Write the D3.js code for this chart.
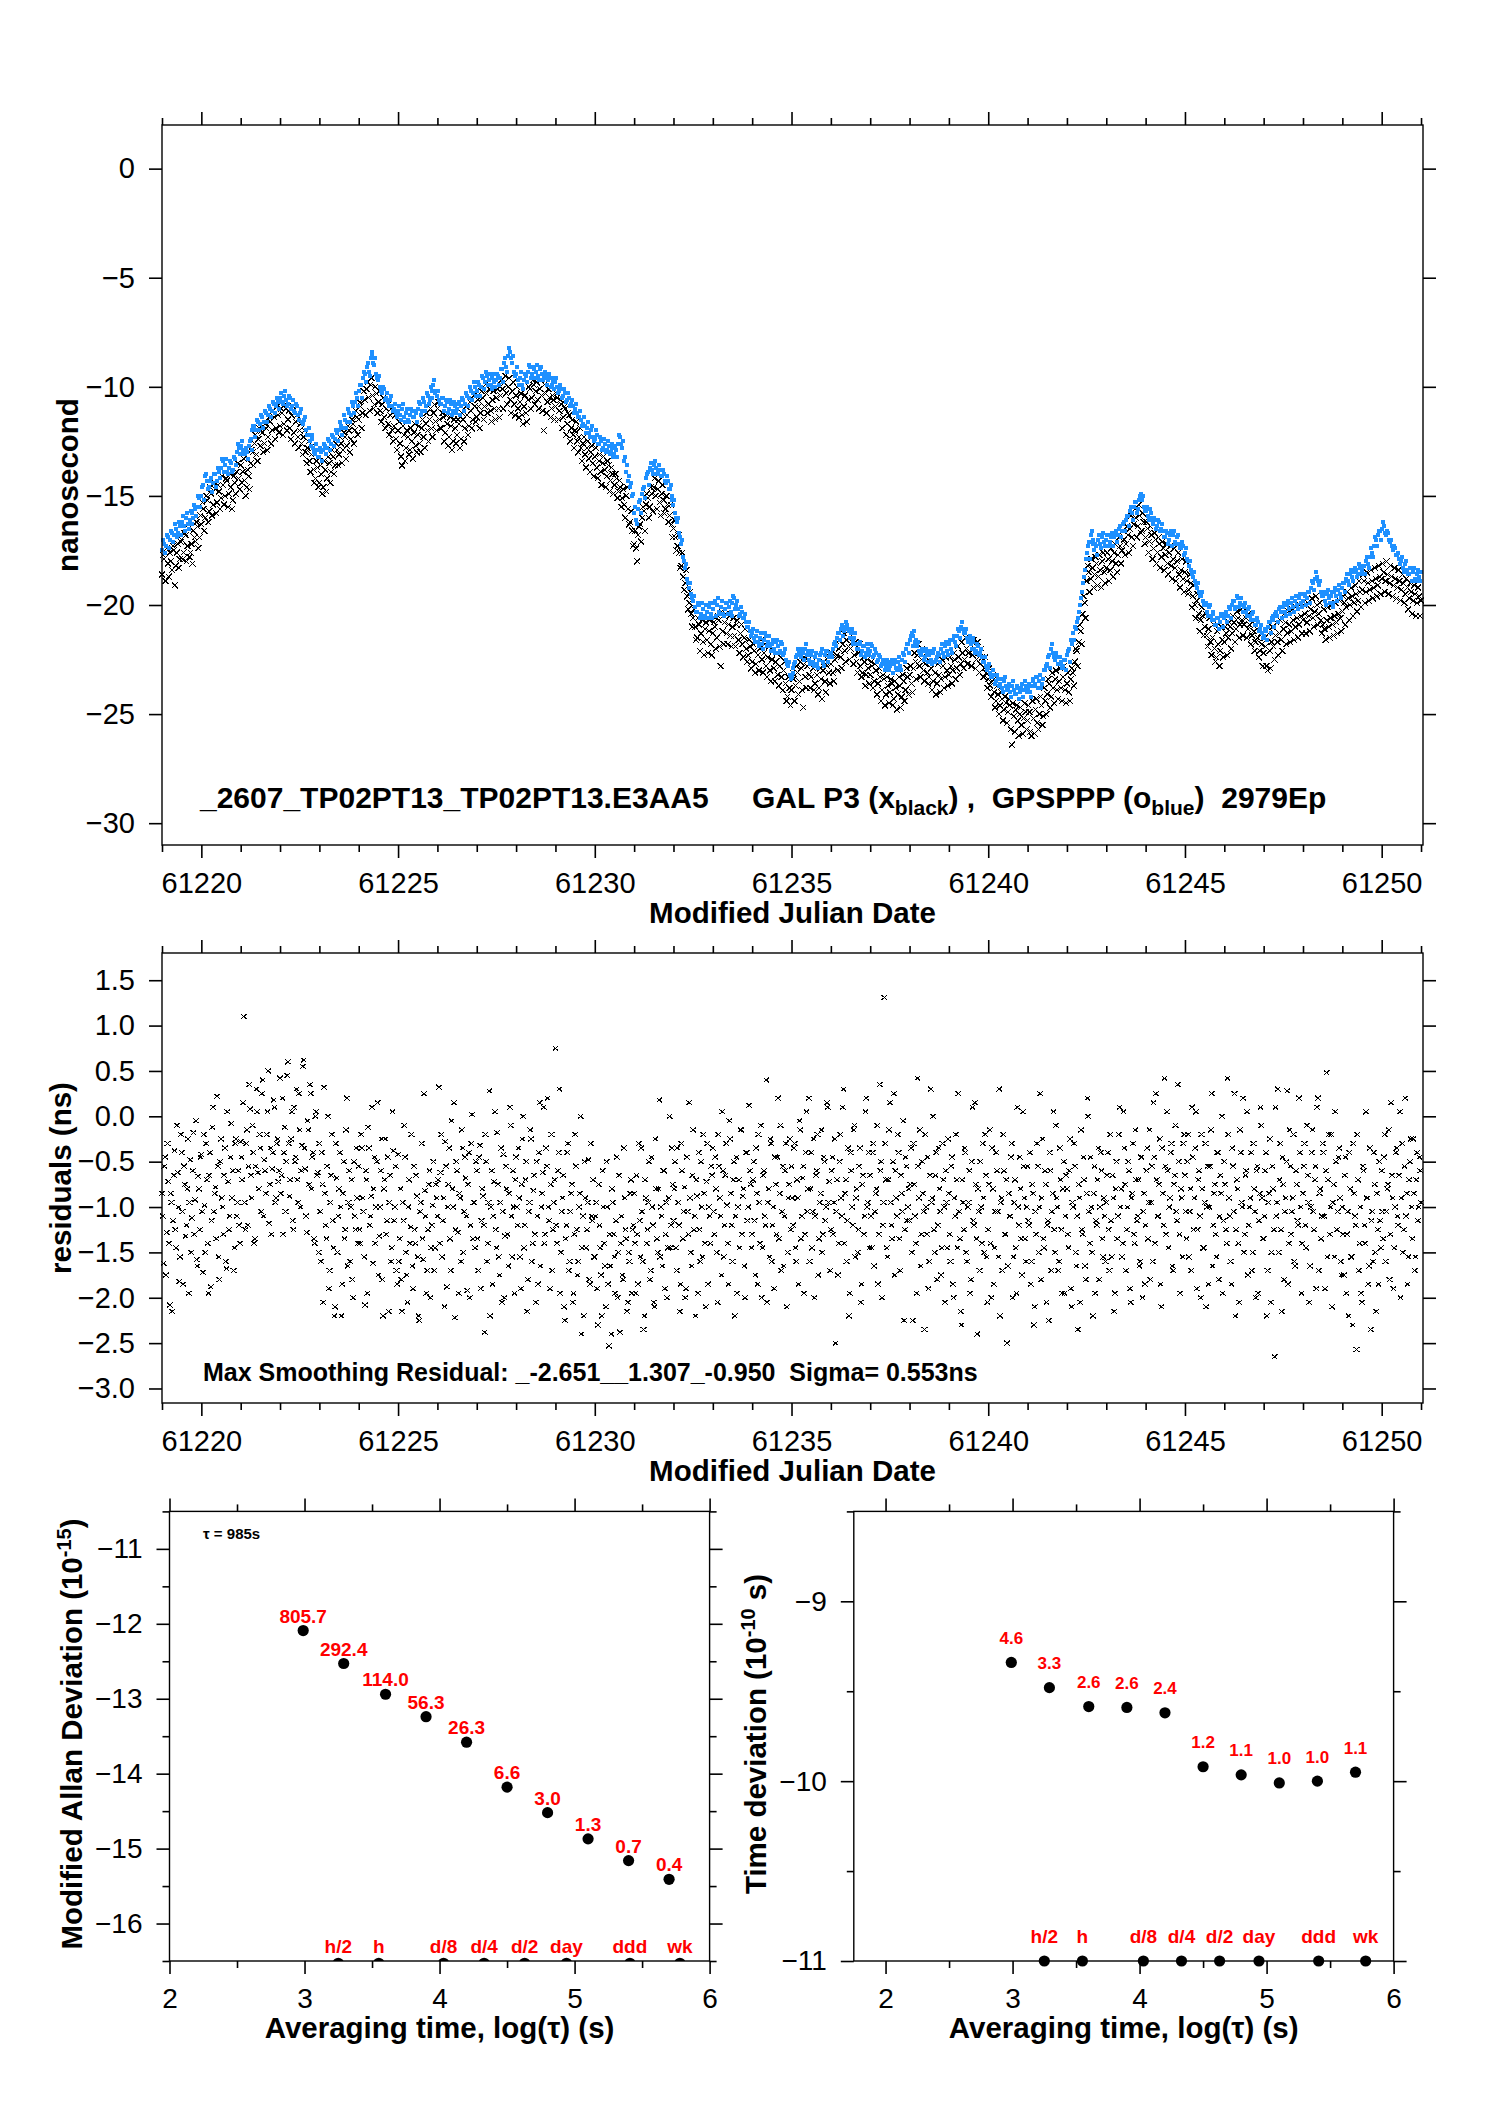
<!DOCTYPE html>
<html>
<head>
<meta charset="utf-8">
<script src="https://cdn.jsdelivr.net/npm/d3@7"></script>
<style>
  body { margin: 0; background: #fff; }
  svg text { font-family: "Liberation Sans", Arial, Helvetica, sans-serif; }
</style>
</head>
<body>
<div id="chart"></div>
<script>
// ============================================================================
// GNSS clock comparison: time series, smoothing residuals, MDEV and TDEV
// ============================================================================

// ---- time grids (MJD) for the two time-series panels
const MJD_START = 61219.0;
const MJD_END = 61251.0;
const TOP_MID_START = 61219.025;     // second batch of epochs, between the first
const TOP_MID_END = 61250.975;
const RES_MID_START = 61219.02;
const RES_MID_END = 61250.98;
const MJD_MAJOR = [61220, 61225, 61230, 61235, 61240, 61245, 61250];
const MJD_MINOR = [61219, 61221, 61222, 61223, 61224, 61226, 61227, 61228, 61229,
    61231, 61232, 61233, 61234, 61236, 61237, 61238, 61239, 61241, 61242, 61243,
    61244, 61246, 61247, 61248, 61249, 61251];

// ---- top panel: GAL P3 (black crosses), every 0.05 day, ns
const galP3 = [
    -18.6, -17.9, -18.9, -18.1, -17.6, -18.4, -17.5, -18.2, -17.2, -17.9,
    -17.0, -17.6, -16.8, -17.3, -17.8, -17.2, -16.6, -17.1, -16.4, -16.9,
    -16.3, -15.6, -16.0, -15.2, -15.7, -14.9, -15.4, -14.7, -15.3, -14.8,
    -15.1, -14.5, -15.0, -14.3, -14.9, -14.6, -15.2, -14.4, -13.9, -14.2,
    -13.6, -13.9, -14.3, -14.6, -14.1, -13.5, -13.0, -12.6, -13.1, -12.4,
    -12.7, -12.1, -12.6, -11.9, -12.3, -11.6, -12.0, -11.4, -11.9, -11.3,
    -11.8, -11.2, -11.7, -11.0, -11.5, -11.9, -11.3, -12.1, -11.6, -12.3,
    -12.0, -12.6, -12.3, -13.0, -12.8, -13.4, -13.1, -13.8, -14.2, -13.7,
    -14.4, -14.0, -14.6, -13.8, -14.2, -13.5, -13.9, -13.2, -13.6, -12.9,
    -13.1, -12.6, -12.9, -12.3, -12.7, -12.0, -12.4, -11.7, -12.0, -11.4,
    -11.5, -10.9, -11.2, -10.6, -10.1, -10.5, -9.9, -10.4, -10.8, -10.3,
    -10.7, -11.1, -10.8, -11.4, -11.0, -11.7, -11.3, -12.0, -11.8, -12.4,
    -12.0, -12.6, -13.6, -12.2, -12.8, -12.3, -12.9, -12.5, -12.1, -12.7,
    -12.2, -12.6, -11.9, -12.3, -11.7, -12.0, -11.5, -11.9, -11.2, -11.6,
    -11.0, -11.5, -11.9, -11.4, -12.1, -11.7, -12.3, -11.8, -12.5, -11.9,
    -12.2, -11.7, -12.4, -11.5, -11.9, -11.3, -11.8, -11.1, -11.5, -10.9,
    -11.4, -10.9, -11.2, -10.5, -10.9, -10.3, -10.8, -11.1, -10.6, -11.0,
    -10.5, -11.0, -10.4, -10.1, -9.8, -10.3, -10.0, -10.6, -10.2, -10.8,
    -10.4, -11.0, -10.7, -11.3, -10.9, -11.2, -10.6, -10.1, -10.5, -9.9,
    -10.2, -10.6, -10.1, -10.4, -12.0, -10.3, -10.7, -10.5, -11.0, -10.6,
    -10.9, -10.5, -11.1, -10.8, -11.4, -11.0, -11.7, -11.3, -11.9, -12.2,
    -12.0, -12.5, -12.3, -12.8, -12.6, -13.1, -12.8, -13.3, -13.0, -13.5,
    -13.2, -13.7, -13.4, -13.9, -13.5, -13.8, -14.1, -13.6, -14.3, -14.0,
    -14.5, -14.2, -14.8, -14.6, -15.1, -15.4, -15.0, -15.6, -16.2, -16.6,
    -17.2, -17.4, -16.8, -16.3, -16.0, -15.7, -15.4, -15.1, -15.5, -14.9,
    -14.6, -15.0, -14.7, -15.3, -14.9, -15.2, -15.6, -15.4, -15.9, -16.3,
    -16.5, -16.9, -17.3, -17.6, -18.2, -18.7, -19.0, -19.6, -19.9, -20.4,
    -20.6, -21.0, -21.5, -20.9, -21.3, -21.7, -21.1, -21.6, -21.2, -21.8,
    -21.3, -21.0, -21.5, -20.7, -22.8, -21.2, -20.8, -21.3, -20.9, -21.4,
    -21.0, -21.4, -20.9, -21.6, -21.3, -21.8, -21.5, -22.0, -22.3, -21.9,
    -22.6, -22.1, -22.7, -22.3, -22.0, -22.5, -22.2, -22.8, -22.4, -23.0,
    -22.5, -22.9, -22.6, -23.2, -22.8, -23.3, -23.0, -23.6, -24.2, -23.8,
    -23.9, -23.4, -23.7, -23.1, -23.5, -22.9, -24.7, -23.3, -22.8, -23.2,
    -23.3, -22.9, -23.6, -23.2, -23.8, -23.4, -23.0, -23.5, -22.8, -23.1,
    -22.7, -23.1, -22.5, -22.3, -22.0, -22.4, -21.8, -22.1, -21.6, -21.9,
    -22.0, -21.7, -22.3, -22.6, -22.2, -22.8, -23.1, -22.6, -23.2, -22.9,
    -23.2, -22.8, -23.5, -23.0, -23.6, -23.3, -23.9, -23.4, -24.1, -23.7,
    -24.0, -23.6, -24.3, -23.8, -24.1, -23.7, -24.2, -23.5, -23.9, -23.3,
    -23.2, -23.6, -22.9, -22.6, -22.3, -22.8, -22.5, -23.0, -22.7, -23.1,
    -23.3, -22.9, -23.5, -23.1, -23.6, -23.2, -23.4, -22.8, -23.3, -23.0,
    -23.2, -22.8, -23.0, -22.5, -22.9, -22.4, -22.7, -22.2, -22.5, -22.0,
    -22.2, -21.8, -22.3, -22.0, -22.5, -22.2, -22.7, -22.4, -22.9, -23.1,
    -23.4, -23.7, -23.5, -24.0, -24.4, -24.1, -24.6, -24.3, -24.8, -24.5,
    -24.9, -24.6, -26.4, -25.1, -24.8, -25.3, -25.0, -25.5, -25.2, -24.9,
    -25.3, -24.9, -26.0, -25.2, -24.8, -25.4, -25.0, -24.6, -25.1, -24.4,
    -24.1, -23.6, -24.2, -23.8, -23.4, -23.9, -23.5, -23.8, -23.3, -23.9,
    -23.6, -24.0, -23.4, -23.1, -22.6, -22.1, -21.7, -21.2, -20.4, -19.9,
    -18.9, -18.5, -18.8, -18.3, -18.6, -18.1, -18.7, -18.4, -18.0, -18.5,
    -18.3, -17.9, -18.4, -18.0, -17.6, -18.1, -17.7, -17.3, -17.5, -17.0,
    -17.2, -16.8, -16.5, -16.9, -16.3, -16.0, -16.4, -15.9, -16.6, -16.2,
    -16.9, -16.5, -17.1, -16.8, -17.4, -17.0, -17.6, -17.2, -17.8, -17.4,
    -17.7, -18.1, -17.6, -18.2, -17.9, -18.3, -18.0, -18.6, -18.4, -18.8,
    -18.5, -18.9, -19.3, -19.0, -19.6, -20.0, -19.8, -20.4, -20.7, -20.5,
    -21.0, -21.4, -21.1, -21.7, -21.5, -22.0, -22.4, -21.8, -22.1, -21.6,
    -21.7, -21.3, -21.5, -21.0, -21.3, -20.8, -21.1, -20.6, -20.9, -20.7,
    -20.9, -20.6, -21.1, -20.9, -21.4, -21.2, -21.7, -21.5, -22.1, -21.8,
    -22.2, -21.9, -23.0, -22.1, -21.7, -21.9, -21.4, -21.7, -21.3, -21.6,
    -21.1, -20.8, -21.3, -20.9, -21.2, -20.7, -21.0, -20.6, -20.9, -20.5,
    -20.7, -20.4, -20.8, -20.5, -20.2, -20.6, -20.3, -20.0, -20.4, -20.7,
    -20.9, -21.1, -20.7, -21.0, -20.6, -20.9, -20.5, -20.8, -20.4, -20.6,
    -20.3, -19.9, -20.1, -19.7, -20.0, -19.6, -19.9, -19.5, -19.8, -19.4,
    -19.3, -18.9, -19.4, -19.0, -19.3, -18.9, -19.2, -18.8, -19.1, -18.7,
    -18.8, -18.5, -18.9, -18.6, -19.0, -18.7, -19.1, -18.8, -19.2, -18.9,
    -19.3, -19.0, -19.5, -19.2, -19.7, -19.4, -19.8, -19.5, -19.9, -19.6,
    -19.8
];

// ---- top panel: GAL P3, epochs halfway between the ones above, ns
const galP3Mid = [
    -17.7, -18.9, -17.4, -18.7, -18.0, -17.3, -19.1, -17.6, -18.3, -17.1,
    -17.9, -16.7, -18.0, -16.5, -17.6, -18.1, -16.9, -16.2, -17.4, -15.9,
    -15.3, -16.6, -15.0, -16.2, -14.6, -15.9, -14.4, -15.8, -14.5, -15.6,
    -14.1, -15.4, -14.2, -15.5, -14.0, -15.6, -14.1, -14.9, -13.5, -14.7,
    -14.4, -13.3, -15.0, -13.8, -14.7, -12.9, -13.6, -12.2, -13.4, -11.9,
    -12.0, -13.0, -11.7, -12.9, -11.4, -12.6, -11.1, -12.4, -10.9, -12.1,
    -11.0, -12.2, -10.8, -12.0, -11.1, -12.4, -10.9, -12.6, -11.3, -12.8,
    -11.7, -13.1, -12.0, -13.5, -12.5, -13.9, -12.7, -14.4, -13.4, -14.6,
    -13.6, -14.9, -13.4, -14.8, -13.2, -14.4, -12.9, -14.0, -12.6, -13.6,
    -12.3, -13.5, -12.1, -13.3, -11.8, -13.0, -11.5, -12.6, -11.1, -12.2,
    -10.7, -11.9, -10.2, -11.3, -9.8, -11.1, -9.6, -11.0, -10.0, -11.2,
    -10.2, -11.6, -10.5, -11.9, -10.6, -12.2, -11.0, -12.5, -11.3, -12.9,
    -11.6, -13.2, -11.8, -13.4, -12.0, -13.1, -11.9, -13.3, -11.7, -13.0,
    -11.8, -13.0, -11.5, -12.8, -11.2, -12.5, -11.0, -12.3, -10.8, -12.0,
    -10.7, -11.9, -11.2, -12.5, -11.3, -12.7, -11.4, -12.9, -11.5, -12.6,
    -11.5, -12.8, -11.2, -12.5, -10.9, -12.2, -10.7, -11.9, -10.4, -11.6,
    -10.6, -11.9, -10.2, -11.5, -9.9, -11.2, -10.1, -11.6, -10.2, -11.5,
    -10.1, -11.4, -9.7, -11.0, -9.5, -10.8, -9.6, -11.2, -9.8, -11.3,
    -10.0, -11.4, -10.3, -11.7, -10.4, -11.6, -10.0, -11.0, -9.7, -10.8,
    -9.8, -11.0, -9.7, -11.1, -9.9, -11.2, -10.1, -11.4, -10.4, -11.5,
    -10.3, -11.5, -10.6, -11.9, -10.9, -12.2, -11.2, -12.5, -11.5, -12.8,
    -11.6, -13.0, -11.9, -13.4, -12.3, -13.7, -12.5, -13.9, -12.7, -14.1,
    -12.8, -14.2, -13.1, -14.5, -13.2, -14.6, -13.4, -14.8, -13.7, -14.9,
    -14.0, -15.1, -14.3, -15.5, -14.7, -16.0, -14.6, -16.3, -15.7, -17.3,
    -16.6, -18.0, -16.4, -17.1, -15.5, -16.6, -14.9, -16.0, -14.6, -15.7,
    -14.2, -15.6, -14.3, -15.9, -14.5, -15.8, -15.0, -16.2, -15.4, -16.9,
    -16.1, -17.5, -16.8, -18.3, -17.6, -19.3, -18.4, -20.2, -19.4, -21.0,
    -20.2, -21.6, -20.6, -22.1, -20.7, -22.3, -20.8, -22.2, -20.7, -22.3,
    -20.8, -22.0, -20.5, -21.9, -20.3, -21.8, -20.4, -21.8, -20.5, -21.9,
    -20.6, -21.9, -20.7, -22.2, -20.9, -22.4, -21.1, -22.6, -21.6, -22.9,
    -21.8, -23.1, -21.7, -23.0, -21.6, -23.1, -21.8, -23.3, -21.9, -23.5,
    -22.1, -23.5, -22.2, -23.7, -22.4, -23.9, -22.6, -24.4, -23.3, -24.6,
    -23.1, -24.4, -22.8, -24.1, -22.6, -23.9, -22.4, -23.8, -22.5, -23.8,
    -22.6, -23.9, -22.7, -24.1, -22.9, -24.3, -22.6, -24.0, -22.3, -23.6,
    -22.2, -23.5, -21.9, -23.0, -21.6, -22.9, -21.3, -22.6, -21.2, -22.5,
    -21.4, -22.7, -21.7, -23.1, -21.8, -23.3, -22.4, -23.7, -22.5, -23.6,
    -22.6, -23.8, -22.7, -24.1, -22.9, -24.4, -23.2, -24.6, -23.3, -24.5,
    -23.4, -24.6, -23.5, -24.8, -23.3, -24.7, -23.2, -24.4, -22.9, -24.1,
    -22.8, -24.0, -22.2, -23.4, -21.8, -23.3, -22.0, -23.5, -22.2, -23.6,
    -22.6, -23.9, -22.6, -24.1, -22.7, -24.0, -22.5, -23.8, -22.4, -23.7,
    -22.4, -23.6, -22.2, -23.4, -21.9, -23.2, -21.7, -22.9, -21.5, -22.7,
    -21.5, -22.8, -21.6, -22.9, -21.7, -23.1, -22.0, -23.3, -22.4, -23.8,
    -22.9, -24.2, -23.2, -24.7, -23.7, -25.0, -24.0, -25.3, -24.2, -25.4,
    -24.3, -25.7, -24.5, -25.8, -24.6, -26.0, -24.7, -25.9, -24.5, -25.7,
    -24.6, -25.8, -24.4, -25.9, -24.3, -25.7, -24.2, -25.5, -23.8, -25.0,
    -23.4, -24.7, -23.1, -24.5, -23.0, -24.3, -22.9, -24.4, -22.8, -24.5,
    -23.1, -24.4, -22.9, -23.7, -22.0, -22.8, -20.9, -21.8, -19.6, -20.6,
    -18.2, -19.4, -17.9, -19.2, -17.8, -19.1, -17.7, -19.2, -17.6, -19.0,
    -17.6, -18.9, -17.4, -18.7, -17.2, -18.5, -16.9, -18.1, -16.6, -17.7,
    -16.4, -17.6, -15.9, -17.3, -15.6, -16.9, -15.4, -16.7, -15.8, -17.2,
    -16.2, -17.6, -16.4, -17.9, -16.7, -18.1, -16.9, -18.3, -17.1, -18.4,
    -17.2, -18.6, -17.3, -18.8, -17.4, -18.9, -17.6, -19.2, -17.9, -19.4,
    -18.0, -19.5, -18.6, -20.1, -19.1, -20.6, -19.5, -21.2, -20.1, -21.4,
    -20.4, -21.9, -20.6, -22.3, -20.9, -22.6, -21.2, -22.8, -21.0, -22.4,
    -21.0, -22.3, -20.8, -22.0, -20.5, -21.7, -20.3, -21.5, -20.2, -21.4,
    -20.2, -21.5, -20.4, -21.8, -20.8, -22.1, -21.1, -22.4, -21.3, -22.8,
    -21.5, -22.8, -21.3, -22.9, -21.0, -22.5, -20.8, -22.3, -20.7, -22.1,
    -20.4, -21.8, -20.3, -21.7, -20.2, -21.6, -20.1, -21.5, -20.0, -21.3,
    -20.0, -21.3, -19.9, -21.2, -19.7, -21.0, -19.6, -20.9, -19.9, -21.3,
    -20.2, -21.6, -20.1, -21.5, -20.0, -21.4, -19.9, -21.3, -19.8, -21.2,
    -19.6, -20.9, -19.4, -20.7, -19.2, -20.5, -19.1, -20.3, -18.9, -20.1,
    -18.6, -19.9, -18.5, -19.8, -18.4, -19.7, -18.3, -19.6, -18.2, -19.5,
    -18.1, -19.4, -18.0, -19.5, -18.2, -19.6, -18.3, -19.7, -18.4, -19.8,
    -18.6, -19.9, -18.8, -20.2, -19.0, -20.4, -19.1, -20.5, -19.2, -20.5
];

// ---- top panel: GPSPPP (blue dots), every 0.05 day, ns
const gpsPPP = [
    -17.5, -17.2, -17.3, -16.9, -17.0, -16.7, -16.8, -16.5, -16.7, -16.4,
    -16.2, -16.4, -16.0, -16.3, -16.1, -15.8, -16.0, -15.6, -15.5, -15.1,
    -15.0, -14.5, -14.1, -14.3, -14.6, -14.2, -14.4, -14.0, -14.3, -13.9,
    -13.7, -13.4, -13.6, -13.9, -13.7, -13.5, -13.8, -13.3, -13.0, -12.8,
    -12.7, -12.9, -13.1, -13.0, -12.7, -12.4, -12.0, -11.8, -12.0, -11.6,
    -11.7, -11.4, -11.6, -11.2, -11.3, -11.0, -11.1, -10.8, -10.9, -10.7,
    -10.5, -10.7, -10.4, -10.6, -10.8, -10.5, -10.9, -11.1, -10.8, -11.3,
    -11.2, -11.6, -11.5, -12.0, -12.2, -12.5, -12.4, -12.8, -13.1, -12.9,
    -13.2, -13.0, -12.9, -12.7, -12.8, -12.5, -12.6, -12.3, -12.4, -12.1,
    -12.0, -11.8, -11.9, -11.5, -11.6, -11.2, -11.3, -10.9, -10.7, -10.5,
    -10.2, -9.9, -9.6, -9.4, -9.1, -9.3, -8.7, -8.5, -9.0, -9.4,
    -9.7, -10.0, -10.3, -10.1, -10.5, -10.7, -10.6, -10.9, -11.0, -11.2,
    -11.1, -11.3, -11.0, -11.4, -11.2, -11.5, -11.3, -11.1, -11.4, -11.2,
    -11.0, -10.8, -11.1, -10.7, -10.9, -10.4, -10.6, -10.2, -9.9, -10.3,
    -10.4, -10.6, -10.8, -10.5, -10.9, -10.7, -11.0, -10.8, -11.1, -10.9,
    -11.0, -10.7, -10.9, -10.6, -10.8, -10.4, -10.5, -10.2, -10.3, -10.0,
    -10.2, -9.9, -10.0, -9.6, -9.8, -9.5, -9.7, -9.9, -9.6, -9.8,
    -9.7, -9.5, -9.6, -9.2, -8.9, -9.1, -8.6, -8.4, -8.9, -9.3,
    -9.4, -9.7, -9.6, -9.9, -9.7, -9.5, -9.3, -9.1, -9.4, -9.2,
    -9.3, -9.5, -9.2, -9.4, -9.6, -9.5, -9.7, -9.6, -9.9, -9.8,
    -9.8, -10.0, -10.2, -10.1, -10.4, -10.3, -10.6, -10.5, -10.8, -10.9,
    -11.0, -11.2, -11.4, -11.5, -11.7, -11.8, -11.9, -12.1, -12.0, -12.3,
    -12.4, -12.2, -12.6, -12.5, -12.8, -12.6, -12.9, -12.7, -13.0, -12.8,
    -13.1, -12.9, -12.6, -12.3, -12.8, -13.4, -13.9, -14.3, -14.6, -15.0,
    -15.8, -16.1, -15.6, -15.2, -14.9, -14.6, -14.2, -13.9, -13.7, -13.8,
    -13.6, -13.7, -13.9, -13.8, -14.1, -14.0, -14.4, -14.3, -14.7, -15.0,
    -15.4, -15.8, -16.2, -16.7, -17.2, -17.8, -18.3, -18.8, -19.2, -19.5,
    -19.8, -20.1, -20.3, -20.0, -20.4, -20.2, -20.5, -20.3, -20.1, -20.4,
    -20.2, -19.8, -20.0, -20.3, -20.1, -20.4, -20.2, -19.9, -20.1, -20.3,
    -19.9, -19.7, -20.0, -20.2, -20.4, -20.3, -20.6, -20.8, -21.0, -21.2,
    -21.3, -21.5, -21.4, -21.7, -21.5, -21.8, -21.6, -21.4, -21.7, -21.9,
    -21.8, -22.0, -21.7, -21.9, -22.1, -21.8, -22.2, -22.5, -22.8, -23.2,
    -23.3, -22.9, -22.6, -22.3, -22.1, -22.4, -22.2, -22.0, -22.3, -22.5,
    -22.3, -22.6, -22.4, -22.7, -22.5, -22.2, -22.6, -22.3, -22.1, -22.4,
    -22.2, -22.0, -21.7, -21.5, -21.3, -21.1, -21.4, -21.0, -20.9, -21.2,
    -21.3, -21.6, -21.5, -21.8, -22.0, -21.7, -22.1, -21.9, -22.2, -22.0,
    -22.1, -21.9, -22.3, -22.2, -22.5, -22.4, -22.7, -22.6, -22.8, -22.6,
    -22.8, -22.5, -22.7, -22.9, -22.6, -22.8, -22.5, -22.3, -22.0, -21.8,
    -21.6, -21.3, -21.4, -21.7, -21.9, -22.1, -22.3, -22.1, -22.4, -22.2,
    -22.3, -22.5, -22.2, -22.6, -22.4, -22.3, -22.0, -22.2, -21.9, -22.1,
    -21.8, -22.0, -21.6, -21.7, -21.4, -21.2, -21.0, -21.1, -21.3, -21.5,
    -21.6, -21.8, -21.7, -22.0, -22.1, -21.9, -22.2, -22.4, -22.6, -22.8,
    -22.9, -23.1, -23.3, -23.2, -23.5, -23.4, -23.6, -23.8, -23.5, -23.7,
    -23.8, -24.0, -23.7, -23.9, -24.1, -23.8, -24.0, -23.6, -23.9, -23.7,
    -23.8, -24.0, -23.7, -23.4, -23.6, -23.3, -23.5, -23.8, -23.4, -23.0,
    -22.7, -22.3, -22.0, -22.2, -22.5, -22.4, -22.7, -22.6, -22.8, -22.5,
    -22.3, -22.0, -21.6, -21.3, -21.0, -20.8, -20.3, -19.7, -19.0, -18.4,
    -17.6, -17.1, -16.8, -17.2, -17.5, -17.3, -17.0, -17.2, -16.9, -17.1,
    -17.0, -16.8, -17.1, -16.7, -16.9, -16.6, -16.8, -16.4, -16.6, -16.2,
    -16.1, -15.9, -15.7, -15.8, -15.5, -15.3, -15.6, -15.0, -15.2, -15.5,
    -15.7, -15.9, -15.6, -16.0, -16.2, -16.1, -16.4, -16.2, -16.5, -16.6,
    -16.9, -16.7, -17.0, -16.6, -16.8, -17.1, -16.9, -17.2, -17.4, -17.3,
    -17.6, -17.9, -18.2, -18.4, -18.7, -18.9, -19.2, -19.4, -19.6, -19.8,
    -20.0, -20.3, -20.1, -20.5, -20.4, -20.7, -20.9, -20.6, -20.8, -20.5,
    -20.6, -20.3, -20.5, -20.2, -20.0, -19.8, -20.1, -19.7, -19.9, -20.0,
    -20.1, -20.3, -20.2, -20.5, -20.4, -20.7, -20.9, -20.8, -21.1, -21.3,
    -21.4, -21.2, -21.0, -20.8, -20.6, -20.7, -20.4, -20.5, -20.2, -20.3,
    -20.1, -20.3, -20.0, -20.2, -19.9, -20.1, -19.8, -20.0, -19.7, -19.9,
    -19.8, -19.6, -19.7, -19.4, -19.2, -19.0, -18.8, -18.7, -19.1, -19.4,
    -19.6, -19.8, -19.5, -19.7, -19.6, -19.9, -19.4, -19.6, -19.3, -19.5,
    -19.2, -19.0, -18.8, -18.9, -18.6, -18.7, -18.5, -18.4, -18.6, -18.3,
    -18.4, -18.2, -18.0, -18.1, -17.8, -17.6, -17.3, -17.0, -16.8, -16.6,
    -16.5, -16.4, -16.8, -16.7, -17.1, -17.3, -17.5, -17.4, -17.7, -17.9,
    -18.0, -18.3, -18.1, -18.4, -18.6, -18.3, -18.5, -18.8, -18.6, -18.7,
    -18.5
];

// ---- top panel: GPSPPP, epochs halfway between the ones above, ns
const gpsPPPMid = [
    -17.0, -17.6, -16.8, -17.4, -16.6, -17.1, -16.3, -16.9, -16.2, -16.8,
    -15.9, -16.6, -15.8, -16.5, -15.7, -16.3, -15.4, -15.9, -15.0, -15.5,
    -14.6, -15.2, -14.0, -14.7, -14.3, -14.8, -14.0, -14.6, -13.7, -14.2,
    -13.3, -13.9, -13.3, -14.0, -13.4, -13.9, -13.2, -13.6, -12.6, -13.1,
    -12.5, -13.1, -12.8, -13.3, -12.5, -12.9, -11.8, -12.3, -11.5, -12.0,
    -11.3, -11.9, -11.1, -11.6, -10.9, -11.4, -10.7, -11.2, -10.5, -11.0,
    -10.3, -10.8, -10.2, -10.9, -10.4, -11.0, -10.6, -11.2, -10.9, -11.5,
    -11.0, -11.7, -11.4, -12.2, -11.9, -12.7, -12.2, -13.0, -12.6, -13.2,
    -12.8, -13.4, -12.6, -13.1, -12.4, -12.9, -12.2, -12.7, -12.0, -12.5,
    -11.6, -12.2, -11.3, -11.9, -11.0, -11.6, -10.7, -11.2, -10.3, -10.9,
    -9.9, -10.5, -9.3, -9.8, -8.9, -9.5, -8.4, -8.9, -8.7, -9.6,
    -9.5, -10.2, -10.0, -10.6, -10.3, -10.9, -10.4, -11.1, -10.8, -11.4,
    -10.9, -11.5, -10.8, -11.6, -11.0, -11.6, -11.0, -11.4, -11.1, -11.6,
    -10.7, -11.3, -10.5, -11.1, -10.3, -10.8, -10.0, -10.5, -9.7, -10.2,
    -10.2, -10.8, -10.5, -11.1, -10.6, -11.2, -10.6, -11.3, -10.7, -11.2,
    -10.8, -11.3, -10.5, -11.1, -10.3, -10.9, -10.0, -10.6, -9.8, -10.4,
    -9.8, -10.4, -9.5, -10.1, -9.3, -9.9, -9.4, -10.1, -9.4, -10.0,
    -9.4, -9.9, -9.2, -9.8, -8.7, -9.3, -8.2, -8.7, -8.6, -9.5,
    -9.1, -9.9, -9.3, -10.1, -9.4, -9.8, -9.0, -9.6, -9.1, -9.6,
    -9.0, -9.7, -9.1, -9.7, -9.3, -9.9, -9.4, -10.0, -9.6, -10.1,
    -9.6, -10.3, -9.9, -10.5, -10.1, -10.7, -10.3, -10.9, -10.6, -11.2,
    -10.8, -11.4, -11.1, -11.8, -11.4, -12.1, -11.6, -12.3, -11.8, -12.5,
    -12.0, -12.6, -12.3, -12.9, -12.4, -13.0, -12.5, -13.1, -12.6, -13.2,
    -12.7, -13.2, -12.2, -12.6, -12.5, -13.2, -13.6, -14.1, -14.4, -14.9,
    -15.5, -16.3, -15.3, -15.8, -14.7, -15.1, -14.0, -14.5, -13.5, -14.0,
    -13.4, -14.0, -13.6, -14.1, -13.8, -14.3, -14.1, -14.7, -14.5, -15.2,
    -15.2, -16.0, -16.0, -16.9, -17.0, -18.0, -18.1, -19.0, -19.0, -19.7,
    -19.6, -20.3, -19.9, -20.6, -19.9, -20.6, -20.0, -20.6, -19.9, -20.6,
    -19.9, -20.5, -19.7, -20.4, -19.8, -20.5, -19.9, -20.4, -19.8, -20.5,
    -19.6, -20.2, -19.8, -20.5, -20.1, -20.6, -20.4, -21.0, -20.8, -21.4,
    -21.1, -21.7, -21.2, -21.9, -21.3, -22.0, -21.3, -21.9, -21.4, -22.1,
    -21.6, -22.2, -21.6, -22.2, -21.7, -22.3, -22.0, -22.7, -22.6, -23.4,
    -23.1, -22.7, -22.4, -22.0, -22.3, -22.0, -22.5, -21.8, -22.1, -22.7,
    -22.1, -22.8, -22.2, -22.9, -22.3, -22.0, -22.8, -22.1, -22.6, -22.2,
    -22.4, -21.8, -21.9, -21.3, -21.6, -20.9, -21.2, -20.8, -21.1, -21.5,
    -21.1, -21.8, -21.3, -22.0, -21.8, -22.3, -21.9, -22.4, -21.8, -22.3,
    -21.8, -22.4, -22.0, -22.6, -22.3, -22.8, -22.5, -23.0, -22.5, -23.0,
    -22.6, -23.1, -22.5, -23.0, -22.4, -23.0, -22.2, -22.6, -21.8, -22.2,
    -21.4, -21.9, -21.2, -21.6, -21.7, -22.2, -22.0, -22.5, -22.0, -22.6,
    -22.1, -22.7, -22.0, -22.5, -22.2, -22.6, -21.8, -22.4, -21.7, -22.3,
    -21.6, -22.2, -21.4, -21.9, -21.1, -21.5, -20.8, -21.3, -21.1, -21.7,
    -21.4, -22.0, -21.5, -22.2, -21.8, -22.3, -22.0, -22.6, -22.4, -23.0,
    -22.7, -23.3, -23.0, -23.6, -23.2, -23.7, -23.4, -24.0, -23.3, -23.9,
    -23.6, -24.2, -23.5, -24.1, -23.7, -24.3, -23.8, -24.2, -23.5, -24.0,
    -23.6, -24.2, -23.5, -23.7, -23.3, -23.8, -23.2, -23.6, -23.0, -22.8,
    -22.4, -22.9, -21.8, -22.4, -22.2, -22.7, -22.4, -22.9, -22.5, -23.0,
    -22.1, -22.6, -21.8, -21.6, -21.1, -20.6, -20.0, -19.4, -18.7, -17.9,
    -17.3, -17.9, -16.6, -17.0, -17.2, -17.7, -16.8, -17.4, -16.7, -17.3,
    -16.8, -17.3, -16.9, -17.3, -16.7, -17.1, -16.5, -16.9, -16.3, -16.6,
    -15.9, -16.4, -15.5, -16.1, -15.3, -15.8, -15.2, -14.9, -15.0, -15.7,
    -15.5, -16.1, -15.8, -16.3, -16.0, -16.5, -16.1, -16.6, -16.3, -16.9,
    -16.6, -17.2, -16.8, -17.3, -16.6, -17.2, -16.8, -17.4, -17.1, -17.7,
    -17.4, -18.0, -18.0, -18.6, -18.5, -19.1, -19.0, -19.6, -19.4, -20.0,
    -19.9, -20.5, -20.0, -20.7, -20.3, -20.9, -20.6, -21.1, -20.4, -21.0,
    -20.4, -20.8, -20.1, -20.6, -19.8, -20.2, -19.6, -20.1, -19.7, -20.3,
    -19.9, -20.5, -20.1, -20.7, -20.3, -20.9, -20.6, -21.2, -20.9, -21.5,
    -21.1, -21.6, -20.8, -21.3, -20.5, -21.0, -20.3, -20.8, -20.1, -20.6,
    -19.9, -20.5, -19.8, -20.4, -19.7, -20.3, -19.6, -20.2, -19.5, -20.1,
    -19.5, -20.0, -19.4, -19.9, -18.9, -19.3, -18.5, -18.9, -18.9, -19.6,
    -19.4, -20.0, -19.3, -19.9, -19.4, -20.1, -19.2, -19.8, -19.1, -19.7,
    -19.0, -19.4, -18.6, -19.1, -18.4, -18.9, -18.3, -18.7, -18.1, -18.6,
    -18.2, -18.6, -17.8, -18.3, -17.4, -17.8, -16.9, -17.3, -16.6, -17.0,
    -16.2, -16.7, -16.6, -17.0, -17.0, -17.4, -17.3, -17.7, -17.6, -18.1,
    -17.8, -18.5, -18.0, -18.6, -18.3, -18.9, -18.3, -18.9, -18.4, -18.9
];

// ---- middle panel: smoothing residuals, every 0.04 day, ns
const residuals = [
    -0.85, -1.62, -0.45, -1.28, -0.72, -2.08, -0.95, -1.15, -0.38, -1.45, -0.62, -1.82, -0.20, -1.05, -0.55, -1.32, -0.80, -1.95, -0.48, -1.12, -0.18, -0.92, -1.58, -0.66, -1.25,
    -0.42, -1.72, -0.98, -0.30, -1.40, -0.65, -1.88, -0.12, -1.05, -0.78, 0.22, -1.55, -0.50, -0.90, -1.30, -0.35, -1.68, -0.72, -1.10, -0.08, -0.60, -1.45, -0.25, -0.95, -1.20,
    -0.28, -0.70, 1.10, -1.25, -0.15, -0.55, 0.08, -0.90, -0.40, -1.35, 0.30, -0.62, -0.20, -1.05, 0.40, -0.48, -0.85, 0.05, -1.18, -0.35, -0.58, 0.18, -0.95, -0.30, -0.72,
    0.42, -0.65, -1.30, -0.12, -0.50, 0.60, -0.88, -0.25, -1.15, 0.10, -0.45, -0.70, 0.25, -1.00, -0.32, 0.62, -0.58, -1.28, -0.15, 0.35, -0.80, -0.40, -1.40, 0.05, -0.62,
    -0.30, -1.60, -0.75, 0.32, -1.20, -0.55, -1.90, -0.95, -0.20, -1.45, -2.10, -0.68, -1.10, -0.40, -2.20, -0.85, -1.35, -0.15, -1.65, -0.60, -1.00, -1.80, -0.50, -1.25, -0.90,
    -0.55, -1.40, -0.35, -1.05, -2.08, -0.70, -0.12, -1.20, -0.88, -1.62, -0.45, -1.00, 0.15, -1.32, -0.60, -1.80, -0.80, -0.25, -1.15, -2.15, -0.65, -1.45, -0.38, -1.00, -1.70,
    -0.42, -1.35, -1.80, -0.95, -0.10, -1.50, -2.05, -0.70, -1.22, -1.65, -0.55, -1.40, -0.88, -2.20, -1.05, -0.30, -1.58, -0.82, -1.95, -1.25, -0.60, -1.45, -0.98, -1.70, -0.75,
    -1.10, 0.32, -0.62, -1.55, -0.90, -0.28, -1.88, -0.75, -1.35, -0.05, -1.00, -2.22, -0.50, -1.28, -0.85, -1.60, -0.35, -1.05, -0.68, -1.92, -0.40, -1.20, 0.02, -0.95, -1.45,
    -0.60, -1.70, -0.32, -1.15, -0.88, -2.38, -0.50, -1.40, 0.28, -1.00, -1.85, -0.72, -1.25, -0.18, -1.55, -0.95, -2.05, -0.42, -1.32, -0.80, -1.65, 0.10, -1.10, -0.60, -1.95,
    -0.45, -1.20, -0.90, -1.90, -0.25, -1.45, -0.70, -2.15, -1.05, -0.15, -1.60, -0.82, -1.30, -0.50, -1.85, 0.15, -1.00, -0.62, -1.40, -0.35, 0.20, -1.15, -0.75, -1.70, -0.95,
    0.75, -1.40, -0.40, -1.95, -1.05, -0.65, -2.25, -1.20, -0.30, -1.60, -0.85, -2.05, -1.30, -0.55, -1.75, -1.00, 0.00, -1.45, -2.20, -0.90, -1.25, -0.48, -1.85, -1.10, -0.70,
    -1.55, -0.95, -2.30, -1.20, -1.75, -0.60, -1.40, -2.10, -1.00, -2.53, -1.65, -0.80, -1.30, -1.95, -0.45, -1.50, -2.38, -1.10, -1.80, -0.90, -1.35, -2.05, -1.60, -0.70, -1.25,
    -0.85, -1.95, -1.30, -0.30, -1.55, -1.05, -2.35, -0.70, -1.40, -0.95, -1.80, -0.45, -1.20, -2.10, -0.80, -1.50, 0.18, -1.00, -1.65, -0.60, -1.30, -2.00, -0.90, -1.45, -0.35,
    -1.15, -0.50, -1.70, -0.95, -2.15, -0.30, -1.35, -0.78, -1.90, -1.05, 0.15, -1.50, -0.65, -1.25, -2.20, -0.88, -0.40, -1.60, -1.00, -0.20, -1.40, -0.72, -1.85, -1.10, -0.55,
    -0.35, -1.30, -0.80, -2.05, -0.55, -1.10, 0.05, -1.55, -0.65, -0.98, -1.85, -0.25, -1.20, -0.70, -2.20, -0.45, -1.00, -1.45, -0.15, -0.88, -1.65, -0.40, -1.15, 0.12, -0.75,
    -1.30, -0.50, -1.75, -0.85, -0.20, -1.40, -2.00, -0.65, -1.10, 0.40, -0.95, -1.55, -0.30, -1.20, -1.90, -0.75, -0.45, -1.35, -0.10, -1.05, -1.65, -0.60, -2.10, -0.90, -0.25,
    -0.55, -1.20, -0.30, -1.60, -0.90, -0.05, -1.35, -0.68, -1.95, -0.40, -1.05, 0.20, -0.80, -1.45, -0.25, -1.10, -0.60, -1.75, -0.95, -0.15, -1.30, -0.50, -1.00, 0.10, -0.72,
    -1.25, -0.45, -0.95, -2.50, -0.70, -1.40, -0.20, -1.10, 0.30, -0.85, -1.60, -0.35, -1.95, -0.60, -1.20, -0.10, -0.90, -1.50, -0.55, -2.05, -0.75, -1.30, 0.05, -1.00, -0.40,
    -0.65, -1.45, -0.30, -1.05, -0.80, -1.85, 0.35, -0.50, -1.20, 1.31, -0.70, -1.55, -0.15, -0.95, -1.35, 0.25, -0.60, -1.10, -0.40, -1.70, -0.85, -0.05, -1.25, -0.55, -1.00,
    -1.15, -0.35, -2.25, -0.75, -1.40, 0.42, -0.90, -1.65, -0.50, -1.05, -0.20, -1.30, -1.90, -0.65, -0.95, 0.00, -1.50, -0.40, -1.20, -0.80, -1.75, -0.30, -1.00, -0.60, -1.45,
    -0.85, -1.60, -0.45, -2.00, -1.10, -0.70, 0.25, -1.35, -2.30, -0.95, -0.35, -1.50, -1.00, -0.60, -1.80, 0.10, -1.20, -0.75, -2.40, -1.05, -0.50, -1.40, -0.90, -0.20, -1.55,
    -1.25, -0.15, -2.00, -0.80, -1.45, -0.40, -1.05, 0.30, -0.95, -1.70, -0.60, -1.30, -2.50, -0.85, -1.10, -0.30, -1.55, -0.70, -1.95, -1.00, -0.45, -1.35, 0.05, -0.90, -1.60,
    -0.55, -1.20, -1.85, -0.75, -2.30, -1.05, -0.30, -1.50, 0.25, -0.90, -1.35, -0.60, -2.05, -1.15, -0.40, -1.70, -0.85, -1.25, -0.10, -1.00, -1.60, -0.70, -1.95, -0.50, -1.10,
    -0.80, -1.45, -0.25, -2.10, -1.00, -0.55, -1.65, -2.35, -0.90, -0.15, -1.30, -0.70, -1.80, 0.20, -1.05, -0.45, -1.50, -0.85, -1.95, -1.20, -0.35, -1.00, -0.60, -1.55, -1.10,
    -0.95, -0.40, -1.70, -1.15, -0.65, -2.15, -0.80, -1.35, -0.20, -1.00, -1.55, 0.05, -0.75, -1.25, -0.50, -1.90, -0.90, -0.30, -1.40, -0.70, -1.10, -1.65, -0.45, -2.00, -0.85,
    -1.20, -0.35, -0.95, -1.80, -0.55, 0.15, -1.40, -0.70, -1.10, -0.25, -2.10, -0.85, 0.42, -1.30, -0.60, -1.00, -0.40, -1.65, -0.75, -0.10, -1.15, -0.50, -1.95, -0.90, -0.30,
    -0.65, -1.35, -0.20, -1.05, -1.70, -0.45, -0.90, 0.05, -1.25, -0.60, -2.00, -0.80, -1.45, -0.30, -1.00, -1.85, -0.55, 0.25, -1.20, -0.75, -1.55, -0.40, -1.10, -0.85, -1.95,
    -0.50, -1.25, 0.42, -0.90, -1.60, -0.35, -1.05, -2.20, -0.70, -1.40, -0.15, -0.95, 0.20, -1.30, -0.60, -1.75, -1.00, -0.40, -1.50, -0.80, -2.00, -0.55, -1.15, 0.10, -0.90,
    -1.35, -0.60, -2.20, -0.95, -0.25, -1.50, -0.80, -2.65, -1.10, 0.30, -0.70, -1.25, -0.45, -1.80, -0.90, 0.28, -1.40, -0.55, -1.05, -0.20, -1.65, -0.75, -1.20, -0.40, -1.95,
    -0.85, -0.30, -1.45, -0.65, -2.05, -1.00, -0.15, -1.25, -0.55, 0.10, -1.70, -0.80, -1.10, -0.40, -1.90, 0.48, -0.70, -1.30, -0.20, -0.95, -1.55, -0.50, -1.05, -0.35, -1.60,
    -1.00, -1.75, -0.45, -1.30, -2.20, -0.80, -1.55, -0.30, -1.10, -2.57, -0.70, -1.40, -1.95, -0.55, -1.20, 0.05, -0.90, -1.65, -2.35, -1.05, -0.40, -1.50, -0.85, -1.85, -1.15,
    -0.60, -1.35, -0.20, -1.05, -0.75, -1.80, 0.15, -0.90, -1.45, -0.40, -1.10, -0.65, -2.00, -0.30, -1.25, 0.20, -0.85, -1.55, -0.50, -1.00, -0.25, -1.70, -0.70, -1.15, -0.45,
    -0.95
];

// ---- middle panel: residuals, epochs halfway between the ones above, ns
const residualsMid = [
    -1.10, -0.55, -1.75, -0.30, -1.40, -0.85, -2.15, -0.65, -1.25, -0.10, -1.00, -1.55, -0.40, -1.85, -0.75, -1.20, -0.25, -0.95, -1.50, -0.60, -1.30, -0.05, -1.65, -0.80, -0.45,
    -1.05, -0.20, -1.50, -0.70, -1.95, -0.40, -1.15, 0.10, -0.85, -1.35, -0.55, -1.80, -0.25, -1.00, -0.65, -1.60, 0.05, -1.25, -0.45, -0.90, -1.70, -0.30, -1.10, -0.60, -1.40,
    -0.45, 0.15, -0.95, -0.30, -1.20, 0.35, -0.65, -0.10, -1.40, -0.55, 0.05, -0.80, -0.35, 0.25, -1.10, -0.60, -0.20, 0.50, -0.75, -1.30, -0.40, 0.10, -0.90, -0.25, -0.60,
    -0.85, 0.20, -0.40, -1.05, 0.45, -0.30, -0.70, 0.05, -1.25, -0.50, 0.30, -0.95, -0.15, -0.60, 0.55, -0.35, -1.10, -0.05, -0.75, 0.25, -0.45, -1.35, 0.00, -0.65, -1.50,
    -1.05, -0.40, -2.05, -0.85, -1.35, 0.00, -1.70, -0.65, -1.15, -2.20, -0.30, -1.50, -0.80, -1.00, -1.85, -0.50, -1.25, 0.20, -0.95, -1.60, -0.70, -2.00, -1.10, -0.35, -1.40,
    -1.25, -0.20, -0.90, -1.55, -0.60, -1.95, -0.35, -1.10, 0.10, -0.80, -1.40, -0.50, -1.75, -1.00, -0.25, -2.20, -0.70, -1.30, -0.45, -0.95, -1.60, 0.05, -1.15, -0.55, -1.85,
    -1.60, -0.80, -2.15, -1.15, -0.45, -1.75, -1.00, -1.40, -0.20, -1.90, -1.25, -0.65, -1.55, -2.25, -0.95, -1.35, 0.25, -1.10, -1.70, -0.75, -2.00, -1.20, -0.50, -1.45, -0.90,
    -0.70, -1.40, -0.20, -1.15, -2.10, -0.55, -1.00, -0.35, -1.70, -0.80, 0.15, -1.25, -0.60, -1.95, -0.90, -0.15, -1.50, -0.45, -1.10, -0.75, -2.00, -0.30, -1.35, -0.95, -0.50,
    -1.35, -0.45, -1.90, -0.80, -1.20, -0.20, -1.60, -0.95, -2.20, -0.60, -1.10, 0.05, -1.45, -0.75, -1.75, -0.35, -1.05, -2.00, -0.55, -1.30, -0.85, -0.10, -1.55, -1.00, -0.70,
    -1.00, -0.35, -1.55, -0.75, 0.00, -1.20, -0.50, -1.80, -0.95, -0.25, -1.40, -0.65, -2.05, -1.10, -0.40, -1.65, -0.85, 0.10, -1.30, -0.55, -1.00, -1.90, -0.20, -1.25, -0.70,
    -1.20, -0.60, 0.30, -1.50, -0.90, -2.10, -1.35, -0.40, -1.70, -1.05, -0.75, -1.95, -0.20, -1.25, -1.60, -0.85, -2.40, -1.10, -0.50, -1.45, -0.95, -1.80, -0.30, -1.15, -1.55,
    -1.10, -1.90, -0.75, -1.45, -2.20, -1.00, -1.65, -0.50, -1.85, -1.30, -2.40, -0.95, -1.55, -1.15, -2.00, -0.65, -1.40, -1.75, -0.35, -1.25, -2.15, -1.50, -0.85, -1.95, -1.20,
    -1.40, -0.65, -1.85, -1.15, -0.35, -1.60, -2.20, -0.90, -1.25, -0.50, -1.70, -1.00, -2.05, -0.25, -1.35, -0.80, -1.55, -1.10, -0.60, -1.90, -0.95, -1.45, 0.00, -1.20, -0.75,
    -0.80, -1.45, -0.35, -1.20, -1.85, -0.60, -1.05, -2.00, -0.45, -1.30, -0.90, -1.65, -0.15, -1.10, -0.70, -1.95, -1.25, -0.50, -1.55, -0.85, -2.10, -0.30, -1.00, -1.40, -0.65,
    -1.05, -0.45, -1.50, -0.20, -0.90, -1.75, -0.60, -1.20, -0.30, -1.40, -0.05, -0.85, -1.60, -0.50, -1.10, -1.95, -0.70, -0.15, -1.30, -0.80, -2.00, -0.40, -1.00, -0.60, -1.45,
    -0.70, -1.15, -0.35, -1.85, -0.95, -0.10, -1.45, -0.60, -1.20, -2.05, -0.80, -0.25, -1.60, -1.00, -0.45, -1.30, 0.20, -0.85, -1.70, -0.55, -1.10, -0.30, -1.50, -0.75, -1.25,
    -0.90, -0.35, -1.45, -0.70, -1.85, -0.15, -1.10, -0.55, -1.30, 0.05, -0.80, -1.60, -0.40, -1.05, -2.00, -0.65, -0.20, -1.35, -0.85, -1.50, -0.45, -1.15, 0.15, -0.95, -1.70,
    -0.60, -1.30, -0.25, -1.05, -1.75, -0.50, -0.90, 0.10, -1.40, -0.70, -1.15, -2.20, -0.40, -1.00, -0.15, -1.55, -0.80, -1.25, -0.35, -1.85, -0.65, -1.10, 0.20, -0.95, -1.45,
    -1.10, -0.40, -1.65, -0.85, -0.10, -1.30, -0.60, -2.00, -0.95, -0.30, -1.45, -0.70, 0.15, -1.20, -0.50, -1.75, -0.90, -0.20, -1.35, -0.65, -1.05, -2.25, -0.45, -1.15, -0.80,
    -0.75, -1.50, -0.30, -1.10, -1.95, -0.55, -0.15, -1.30, -0.85, -2.35, -1.00, -0.45, -1.60, 0.30, -0.90, -1.25, -0.65, -1.80, -0.35, -1.05, -1.45, -0.70, -2.05, -0.95, -0.25,
    -1.30, -0.55, -1.85, -0.90, -0.20, -1.45, -1.05, -2.15, -0.70, -1.25, -0.40, -1.60, -0.95, -1.95, -0.50, -1.15, 0.15, -1.35, -0.80, -1.70, -1.00, -0.30, -1.50, -0.65, -2.05,
    -0.75, -1.40, -0.35, -1.85, -1.05, -0.60, -1.55, -2.20, -0.90, -0.20, -1.30, -0.70, -1.65, -1.10, -0.45, -2.00, -0.95, -1.45, 0.10, -1.20, -0.80, -1.75, -0.55, -1.35, -1.00,
    -1.15, -0.40, -1.60, -0.85, -2.10, -1.30, -0.55, -1.00, -1.80, -0.25, -1.45, -0.75, -1.20, -2.25, -0.60, -1.05, 0.05, -1.50, -0.90, -1.70, -0.35, -1.25, -0.80, -1.95, -0.65,
    -1.30, -0.60, -1.90, -0.95, -0.30, -1.50, -1.10, -0.75, -2.05, -1.25, -0.45, -1.65, -0.85, 0.00, -1.40, -1.00, -2.20, -0.55, -1.15, -0.70, -1.80, -0.40, -1.35, -0.90, -1.60,
    -0.65, -1.25, -0.20, -1.55, -0.90, -1.95, -0.50, -1.10, 0.10, -0.80, -1.40, -0.35, -1.70, -1.00, -0.60, -2.05, -0.85, -1.30, -0.15, -1.15, -0.70, -1.60, -0.45, -1.05, -1.85,
    -0.60, -1.35, -0.15, -0.95, -1.60, -0.45, 0.25, -1.10, -0.75, -1.85, -0.35, -1.20, -0.55, 0.05, -1.45, -0.90, -0.30, -1.70, -0.65, -1.05, 0.35, -1.30, -0.80, -1.55, -0.20,
    -1.05, -0.50, -1.55, -0.80, 0.10, -1.25, -0.35, -1.90, -0.70, -1.10, -0.20, -1.45, -0.95, -2.10, -0.55, -1.00, -0.15, -1.65, -0.85, -1.30, -0.40, -1.80, -0.65, 0.00, -1.15,
    -0.75, -1.40, -0.20, -1.10, -1.85, -0.55, 0.25, -1.25, -0.80, -2.05, -0.40, -1.00, -1.50, -0.65, 0.05, -1.20, -0.90, -1.70, -0.30, -1.05, -0.60, -1.95, -0.85, -0.10, -1.35,
    -1.10, -0.40, -1.70, -0.85, -2.05, -0.55, -1.25, 0.10, -0.95, -1.50, -0.30, -2.15, -0.75, -1.05, -0.50, -1.85, -0.15, -1.30, -0.90, -1.60, -0.60, -1.15, 0.20, -1.00, -1.40,
    -0.55, -1.20, -0.10, -0.95, -1.65, -0.40, -1.05, -0.70, -1.90, 0.20, -0.85, -1.35, -0.30, -1.10, -0.60, -1.55, -0.20, -1.00, -2.10, -0.75, 0.05, -1.25, -0.45, -0.90, -1.75,
    -1.30, -0.65, -1.95, -1.05, -0.40, -1.55, -2.30, -0.85, -1.20, -0.20, -1.70, -1.00, -2.05, -0.60, -1.40, -0.90, -1.85, -0.35, -1.15, -1.60, -0.75, -2.15, -1.25, -0.50, -1.45,
    -1.05, -0.45, -1.60, -0.80, -0.15, -1.30, -0.65, -1.90, -1.00, -0.35, -1.20, 0.05, -0.90, -1.50, -0.55, -1.10, -1.85, -0.70, -0.25, -1.35, -0.85, -1.55, -0.40, -1.00, -0.60
];
const NS_TICKS = [0, -5, -10, -15, -20, -25, -30];
const RES_TICKS = [1.5, 1.0, 0.5, 0.0, -0.5, -1.0, -1.5, -2.0, -2.5, -3.0];

// ---- bottom panels: log10(tau), MDEV and TDEV
const LOG_TAU = [2.99, 3.29, 3.60, 3.90, 4.20, 4.50, 4.80, 5.10, 5.40, 5.70];
const mdevLog = [-12.09, -12.53, -12.94, -13.24, -13.58, -14.18, -14.52, -14.87, -15.16, -15.41];
const mdevLabels = ['805.7', '292.4', '114.0', '56.3', '26.3', '6.6', '3.0', '1.3', '0.7', '0.4'];
const tdevLog = [-9.34, -9.48, -9.585, -9.59, -9.62, -9.92, -9.965, -10.01, -10.0, -9.95];
const tdevLabels = ['4.6', '3.3', '2.6', '2.6', '2.4', '1.2', '1.1', '1.0', '1.0', '1.1'];
const SPAN_LOG = [3.25, 3.55, 4.03, 4.33, 4.63, 4.94, 5.41, 5.78];
const SPAN_LABELS = ['h/2', 'h', 'd/8', 'd/4', 'd/2', 'day', 'ddd', 'wk'];
const MDEV_SPAN_Y = -16.53;
const TDEV_SPAN_Y = -11;
const TAU_MAJOR = [2, 3, 4, 5, 6];
const TAU_MINOR = [2.5, 3.5, 4.5, 5.5];
const MDEV_MAJOR = [-16, -15, -14, -13, -12, -11];
const MDEV_MINOR = [-16.5, -15.5, -14.5, -13.5, -12.5, -11.5, -10.5];
const TDEV_MAJOR = [-11, -10, -9];
const TDEV_MINOR = [-10.5, -9.5, -8.5];

const FONT = '"Liberation Sans", Arial, Helvetica, sans-serif';
const BLUE = '#1e90ff';
const RED = '#ff0000';

const svg = d3.select('#chart').append('svg')
    .attr('width', 1488)
    .attr('height', 2105);

function makePanel(box, xDomain, yDomain) {
    const x = d3.scaleLinear().domain(xDomain).range([box.left, box.right]);
    const y = d3.scaleLinear().domain(yDomain).range([box.bottom, box.top]);
    return { box, x, y };
}

function drawAxis(p, side, values, size, fmt, fontSize) {
    const { box, x, y } = p;
    let ax, tr;
    if (side === 'bottom') { ax = d3.axisBottom(x); tr = `translate(0,${box.bottom})`; }
    if (side === 'top') { ax = d3.axisTop(x); tr = `translate(0,${box.top})`; }
    if (side === 'left') { ax = d3.axisLeft(y); tr = `translate(${box.left},0)`; }
    if (side === 'right') { ax = d3.axisRight(y); tr = `translate(${box.right},0)`; }
    ax.tickValues(values).tickSize(size).tickPadding(14)
        .tickFormat(fmt || (() => ''));
    const g = svg.append('g').attr('transform', tr).call(ax);
    g.select('.domain').remove();
    g.selectAll('line').attr('stroke', '#000').attr('stroke-width', 1.6);
    g.selectAll('text')
        .attr('font-size', fontSize || 29)
        .attr('font-family', FONT)
        .attr('fill', '#000');
    return g;
}

function frame(p) {
    const b = p.box;
    svg.append('rect')
        .attr('x', b.left).attr('y', b.top)
        .attr('width', b.right - b.left).attr('height', b.bottom - b.top)
        .attr('fill', 'none').attr('stroke', '#000').attr('stroke-width', 1.4);
}

function yTitle(xPos, yPos, parts, size) {
    const t = svg.append('text')
        .attr('transform', `translate(${xPos},${yPos}) rotate(-90)`)
        .attr('text-anchor', 'middle')
        .attr('font-size', size || 29.5)
        .attr('font-weight', 'bold')
        .style('white-space', 'pre');
    parts.forEach(pt => {
        const s = t.append('tspan').text(pt.text);
        if (pt.sup) s.attr('dy', pt.sup);
        if (pt.small) s.attr('font-size', 20);
    });
}

function xTitle(p, yPos, text) {
    svg.append('text')
        .attr('x', (p.box.left + p.box.right) / 2)
        .attr('y', yPos)
        .attr('text-anchor', 'middle')
        .attr('font-size', 29.5)
        .attr('font-weight', 'bold')
        .text(text);
}

function crossPath(xs, ys, hw, hh) {
    let d = '';
    xs.forEach((xv, i) => {
        const cy = ys[i];
        d += `M${xv - hw},${cy - hh}L${xv + hw},${cy + hh}M${xv - hw},${cy + hh}L${xv + hw},${cy - hh}`;
    });
    return d;
}

function epochs(n, start, end) {
    const step = (end - start) / (n - 1);
    return d3.range(n).map(i => start + i * step);
}

// aliased 1px crosses, like the original plotter output
function drawCrosses(p, times, values, hw, hh) {
    svg.append('path')
        .attr('d', crossPath(times.map(p.x), values.map(p.y), hw, hh))
        .attr('stroke', '#000').attr('stroke-width', 1)
        .attr('shape-rendering', 'crispEdges')
        .attr('fill', 'none');
}

function drawDots(p, times, values) {
    svg.append('g').attr('shape-rendering', 'crispEdges')
        .selectAll('rect')
        .data(values)
        .join('rect')
        .attr('x', (d, i) => p.x(times[i]) - 2)
        .attr('y', d => p.y(d) - 2)
        .attr('width', 4).attr('height', 4)
        .attr('fill', BLUE);
}

// ============================================================================
// TOP PANEL - time series
// ============================================================================
const pSeries = makePanel({ left: 162, right: 1423, top: 125, bottom: 845 },
    [61219, 61251.05], [-31, 2]);

drawCrosses(pSeries, epochs(galP3.length, MJD_START, MJD_END), galP3, 3, 3);
drawCrosses(pSeries, epochs(galP3Mid.length, TOP_MID_START, TOP_MID_END), galP3Mid, 3, 3);
drawDots(pSeries, epochs(gpsPPP.length, MJD_START, MJD_END), gpsPPP);
drawDots(pSeries, epochs(gpsPPPMid.length, TOP_MID_START, TOP_MID_END), gpsPPPMid);

frame(pSeries);
drawAxis(pSeries, 'bottom', MJD_MAJOR, 13, d3.format('d'));
drawAxis(pSeries, 'bottom', MJD_MINOR, 7);
drawAxis(pSeries, 'top', MJD_MAJOR, 13);
drawAxis(pSeries, 'top', MJD_MINOR, 7);
drawAxis(pSeries, 'left', NS_TICKS, 13, d3.format('d'));
drawAxis(pSeries, 'right', NS_TICKS, 13);
xTitle(pSeries, 923, 'Modified Julian Date');
yTitle(78, 485, [{ text: 'nanosecond' }]);

svg.append('text')
    .attr('x', 200).attr('y', 808)
    .attr('font-size', 30).attr('font-weight', 'bold')
    .text('_2607_TP02PT13_TP02PT13.E3AA5');

const legend = svg.append('text')
    .attr('x', 752).attr('y', 808)
    .attr('font-size', 30).attr('font-weight', 'bold')
    .style('white-space', 'pre');
legend.append('tspan').text('GAL P3 (x');
legend.append('tspan').attr('font-size', 21).attr('dy', 7).text('black');
legend.append('tspan').attr('dy', -7).text(') ,  GPSPPP (o');
legend.append('tspan').attr('font-size', 21).attr('dy', 7).text('blue');
legend.append('tspan').attr('dy', -7).text(')  2979Ep');

// ============================================================================
// MIDDLE PANEL - residuals
// ============================================================================
const pResid = makePanel({ left: 162, right: 1423, top: 953, bottom: 1403 },
    [61219, 61251.05], [-3.16, 1.8]);

drawCrosses(pResid, epochs(residuals.length, MJD_START, MJD_END), residuals, 2.8, 2.4);
drawCrosses(pResid, epochs(residualsMid.length, RES_MID_START, RES_MID_END), residualsMid, 2.8, 2.4);

frame(pResid);
drawAxis(pResid, 'bottom', MJD_MAJOR, 13, d3.format('d'));
drawAxis(pResid, 'bottom', MJD_MINOR, 7);
drawAxis(pResid, 'top', MJD_MAJOR, 13);
drawAxis(pResid, 'top', MJD_MINOR, 7);
drawAxis(pResid, 'left', RES_TICKS, 13, d3.format('.1f'));
drawAxis(pResid, 'right', RES_TICKS, 13);
xTitle(pResid, 1481, 'Modified Julian Date');
yTitle(71, 1178, [{ text: 'residuals (ns)' }]);

svg.append('text')
    .attr('x', 203).attr('y', 1381)
    .attr('font-size', 25).attr('font-weight', 'bold')
    .style('white-space', 'pre')
    .text('Max Smoothing Residual: _-2.651__1.307_-0.950  Sigma= 0.553ns');

// ============================================================================
// BOTTOM LEFT - modified Allan deviation
// ============================================================================
const pMdev = makePanel({ left: 169.5, right: 709.6, top: 1511.4, bottom: 1961 },
    [2, 6], [-16.5, -10.5]);

svg.append('defs').append('clipPath').attr('id', 'clip-mdev')
    .append('rect')
    .attr('x', pMdev.box.left).attr('y', pMdev.box.top)
    .attr('width', pMdev.box.right - pMdev.box.left)
    .attr('height', pMdev.box.bottom - pMdev.box.top);

svg.append('g').selectAll('circle')
    .data(mdevLog)
    .join('circle')
    .attr('cx', (d, i) => pMdev.x(LOG_TAU[i]))
    .attr('cy', d => pMdev.y(d))
    .attr('r', 5.6)
    .attr('fill', '#000');

svg.append('g').selectAll('text')
    .data(mdevLog)
    .join('text')
    .attr('x', (d, i) => pMdev.x(LOG_TAU[i]))
    .attr('y', d => pMdev.y(d) - 8)
    .attr('text-anchor', 'middle')
    .attr('font-size', 19).attr('font-weight', 'bold').attr('fill', RED)
    .text((d, i) => mdevLabels[i]);

svg.append('g').attr('clip-path', 'url(#clip-mdev)')
    .selectAll('circle')
    .data(SPAN_LOG)
    .join('circle')
    .attr('cx', d => pMdev.x(d))
    .attr('cy', pMdev.y(MDEV_SPAN_Y))
    .attr('r', 5.6)
    .attr('fill', '#000');

svg.append('g').selectAll('text')
    .data(SPAN_LOG)
    .join('text')
    .attr('x', d => pMdev.x(d))
    .attr('y', pMdev.y(MDEV_SPAN_Y) - 10)
    .attr('text-anchor', 'middle')
    .attr('font-size', 19).attr('font-weight', 'bold').attr('fill', RED)
    .text((d, i) => SPAN_LABELS[i]);

frame(pMdev);
drawAxis(pMdev, 'bottom', TAU_MAJOR, 13, d3.format('d'), 28);
drawAxis(pMdev, 'bottom', TAU_MINOR, 7);
drawAxis(pMdev, 'top', TAU_MAJOR, 13);
drawAxis(pMdev, 'top', TAU_MINOR, 7);
drawAxis(pMdev, 'left', MDEV_MAJOR, 13, d3.format('d'), 28);
drawAxis(pMdev, 'left', MDEV_MINOR, 7);
drawAxis(pMdev, 'right', MDEV_MAJOR, 13);
drawAxis(pMdev, 'right', MDEV_MINOR, 7);
xTitle(pMdev, 2038, 'Averaging time, log(\u03c4) (s)');
yTitle(82, 1734, [
    { text: 'Modified Allan Deviation (10' },
    { text: '-15', sup: -11, small: true },
    { text: ')', sup: 11 }
]);

svg.append('text')
    .attr('x', 203).attr('y', 1539)
    .attr('font-size', 15).attr('font-weight', 'bold')
    .text('\u03c4 = 985s');

// ============================================================================
// BOTTOM RIGHT - time deviation
// ============================================================================
const pTdev = makePanel({ left: 853.8, right: 1393.6, top: 1511.4, bottom: 1961 },
    [1.75, 6], [-11, -8.5]);

frame(pTdev);
drawAxis(pTdev, 'bottom', TAU_MAJOR, 13, d3.format('d'), 28);
drawAxis(pTdev, 'bottom', TAU_MINOR, 7);
drawAxis(pTdev, 'top', TAU_MAJOR, 13);
drawAxis(pTdev, 'top', TAU_MINOR, 7);
drawAxis(pTdev, 'left', TDEV_MAJOR, 13, d3.format('d'), 28);
drawAxis(pTdev, 'left', TDEV_MINOR, 7);
drawAxis(pTdev, 'right', TDEV_MAJOR, 13);
drawAxis(pTdev, 'right', TDEV_MINOR, 7);

svg.append('g').selectAll('circle')
    .data(tdevLog)
    .join('circle')
    .attr('cx', (d, i) => pTdev.x(LOG_TAU[i]))
    .attr('cy', d => pTdev.y(d))
    .attr('r', 5.6)
    .attr('fill', '#000');

svg.append('g').selectAll('text')
    .data(tdevLog)
    .join('text')
    .attr('x', (d, i) => pTdev.x(LOG_TAU[i]))
    .attr('y', d => pTdev.y(d) - 18.5)
    .attr('text-anchor', 'middle')
    .attr('font-size', 17).attr('font-weight', 'bold').attr('fill', RED)
    .text((d, i) => tdevLabels[i]);

svg.append('g').selectAll('circle')
    .data(SPAN_LOG)
    .join('circle')
    .attr('cx', d => pTdev.x(d))
    .attr('cy', pTdev.y(TDEV_SPAN_Y))
    .attr('r', 5.6)
    .attr('fill', '#000');

svg.append('g').selectAll('text')
    .data(SPAN_LOG)
    .join('text')
    .attr('x', d => pTdev.x(d))
    .attr('y', pTdev.y(TDEV_SPAN_Y) - 18)
    .attr('text-anchor', 'middle')
    .attr('font-size', 19).attr('font-weight', 'bold').attr('fill', RED)
    .text((d, i) => SPAN_LABELS[i]);

xTitle(pTdev, 2038, 'Averaging time, log(\u03c4) (s)');
yTitle(766, 1734, [
    { text: 'Time deviation (10' },
    { text: '-10', sup: -11, small: true },
    { text: ' s)', sup: 11 }
]);
</script>
</body>
</html>
